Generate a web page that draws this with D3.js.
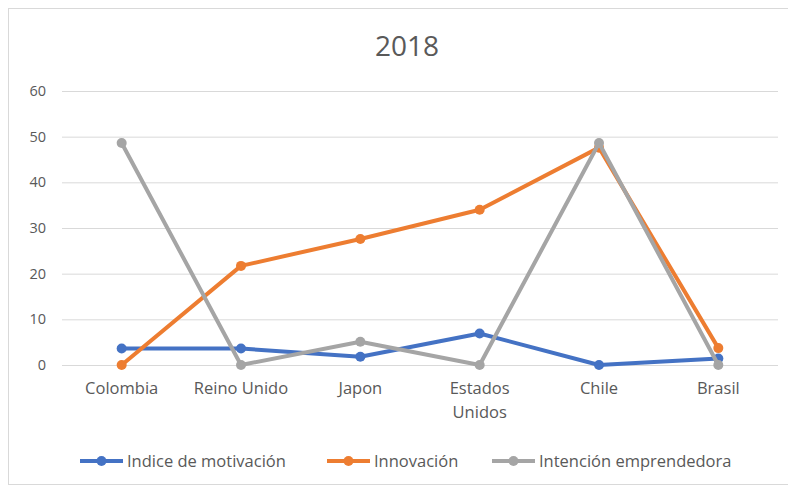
<!DOCTYPE html>
<html><head><meta charset="utf-8">
<script src="https://cdn.jsdelivr.net/npm/d3@7"></script>
<style>body{margin:0;background:#fff;font-family:"Open Sans",sans-serif;}</style>
</head><body><svg id="c" width="788" height="489"></svg>
<script>
const categories = ["Colombia","Reino Unido","Japon","Estados Unidos","Chile","Brasil"];
const motivacion = [3.6, 3.6, 1.8, 6.9, 0, 1.4];
const innovacion = [0, 21.7, 27.6, 34, 47.6, 3.7];
const intencion = [48.6, 0, 5.1, 0, 48.6, 0];
const seriesNames = ["Indice de motivación","Innovación","Intención emprendedora"];
const colors = ["#4472c4","#ed7d31","#a5a5a5"];
const yTicks = [0,10,20,30,40,50,60];
const title = "2018";
const FF = "'Open Sans',sans-serif";
const FS = 16.5;

const svg = d3.select("#c");
svg.append("rect").attr("x",8.5).attr("y",8.5).attr("width",790).attr("height",476)
  .attr("fill","#fff").attr("stroke","#d9d9d9");
const x = d3.scaleBand().domain(categories).range([62,778]);
const y = d3.scaleLinear().domain([0,60]).range([365,91]);

svg.append("text").attr("x",407).attr("y",56).attr("text-anchor","middle")
  .attr("font-size",28).attr("font-family",FF).attr("fill","#595959").text(title);

const ya = svg.append("g").attr("transform","translate(62,0)")
  .call(d3.axisLeft(y).tickValues(yTicks).tickSize(-716).tickPadding(16));
ya.select(".domain").remove();
ya.selectAll("line").attr("stroke","#d9d9d9");
ya.selectAll("text").attr("fill","#595959").attr("font-size",14.5).attr("font-family",FF);

const xa = svg.append("g").attr("transform","translate(0,365)")
  .call(d3.axisBottom(x).tickSize(0).tickPadding(17));
xa.select(".domain").remove();
xa.selectAll("text").attr("fill","#595959").attr("font-size",FS).attr("font-family",FF)
  .each(function(d){
    const t = d3.select(this);
    if (d === "Estados Unidos") {
      t.text(null);
      t.append("tspan").attr("x",0).attr("dy","0.71em").text("Estados");
      t.append("tspan").attr("x",0).attr("dy","1.45em").text("Unidos");
      t.attr("dy",null);
    }
  });

const data = [motivacion, innovacion, intencion];
const line = d3.line().x((d,i)=>x(categories[i])+x.bandwidth()/2).y(d=>y(d));
data.forEach((s,k)=>{
  const g = svg.append("g");
  g.append("path").datum(s).attr("d",line).attr("fill","none")
    .attr("stroke",colors[k]).attr("stroke-width",4).attr("stroke-linejoin","round").attr("stroke-linecap","round");
  g.selectAll("circle").data(s).join("circle")
    .attr("cx",(d,i)=>x(categories[i])+x.bandwidth()/2).attr("cy",d=>y(d)).attr("r",5).attr("fill",colors[k]);
});

const legX = [80, 327, 492];
seriesNames.forEach((n,k)=>{
  const g = svg.append("g").attr("transform",`translate(${legX[k]},461)`);
  g.append("line").attr("x1",0).attr("x2",43).attr("stroke",colors[k]).attr("stroke-width",4);
  g.append("circle").attr("cx",21.5).attr("r",5).attr("fill",colors[k]);
  g.append("text").attr("x",47).attr("dy","0.35em").attr("font-size",FS).attr("font-family",FF).attr("fill","#595959").text(n);
});
</script></body></html>
